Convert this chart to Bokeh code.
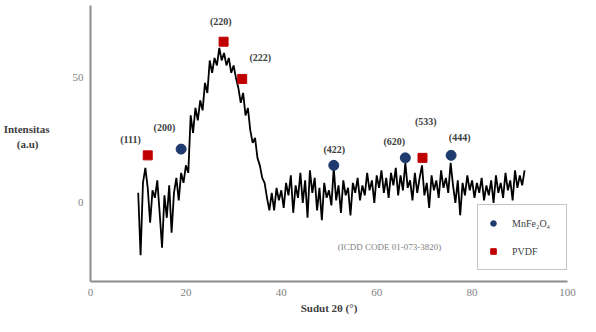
from bokeh.plotting import figure
from bokeh.models import Label, Legend, LegendItem, FixedTicker, Range1d
from bokeh.embed import file_html
from bokeh.resources import INLINE

two_theta = [10.0 + 0.5 * i for i in range(163)]
intensity = [
    4, -21, 8, 14, 6, -8, 5, 2, 9, -4, -18, 3, -6, 7, -12, 4, 10, 1, 12, 8,
    15, 12, 35, 28, 38, 33, 41, 37, 48, 44, 57, 52, 58, 55, 62, 57, 60, 55, 58, 52,
    55, 50, 46, 40, 44, 35, 38, 29, 24, 26, 18, 15, 10, 8, 2, -3, 4, -3, 6, 1,
    5, -2, 8, 3, 11, -4, 7, 2, 12, 0, 9, -6, 13, 4, 10, -3, 6, -7, 8, 2,
    5, -1, 14, 1, 7, -4, 9, 3, 6, -5, 8, 4, 10, 1, 7, 3, 12, 5, 9, 0,
    11, 6, 13, 4, 10, 2, 12, 7, 14, 3, 11, 5, 16, 6, 9, 1, 12, 4, 10, 15,
    3, 8, -2, 11, 5, 9, 2, 13, 6, 10, 4, 16, 7, 0, 9, -5, 8, 3, 11, 5,
    9, 2, 8, 4, 10, 1, 7, 3, 9, 0, 11, 4, 8, 2, 12, 5, 9, 1, 13, 6,
    11, 7, 13,
]
two_theta = two_theta[:len(intensity)]

mnfe_x = [19.0, 51.0, 66.0, 75.6]
mnfe_y = [21.5, 15.0, 18.0, 19.0]
pvdf_x = [12.0, 27.9, 31.8, 69.6]
pvdf_y = [19.0, 64.5, 49.6, 18.0]

peak_labels = ["(111)", "(200)", "(220)", "(222)", "(422)", "(620)", "(533)", "(444)"]
peak_label_x = [8.4, 15.5, 27.3, 35.6, 51.1, 63.7, 70.3, 77.4]
peak_label_y = [25.4, 30.0, 72.7, 58.0, 21.5, 24.6, 32.7, 26.2]

x_ticks = [0, 20, 40, 60, 80, 100]
y_ticks = [0, 50]

SERIF = "Liberation Serif"
GREY = "#8c8c8c"
NBSP = "\u00a0"

p = figure(width=580, height=316, output_backend="svg", toolbar_location=None,
           x_range=Range1d(0, 100), y_range=Range1d(-31.5, 79),
           min_border_left=20, min_border_right=13, min_border_top=5, min_border_bottom=0)
p.outline_line_color = None
p.xgrid.grid_line_color = None
p.ygrid.grid_line_color = None

for ax in (p.xaxis[0], p.yaxis[0]):
    ax.axis_line_color = GREY
    ax.axis_line_width = 2
    ax.major_tick_line_color = None
    ax.minor_tick_line_color = None
    ax.major_label_text_color = "#7f7f7f"
    ax.major_label_text_font = SERIF
    ax.major_label_text_font_size = "11px"
    ax.major_label_standoff = 1

p.xaxis.ticker = FixedTicker(ticks=x_ticks)
p.yaxis.ticker = FixedTicker(ticks=y_ticks)
p.xaxis.axis_label = "Sudut 2θ (°)"
p.xaxis.axis_label_text_font = SERIF
p.xaxis.axis_label_text_font_style = "bold"
p.xaxis.axis_label_text_font_size = "11px"
p.xaxis.axis_label_text_color = "#404040"
p.xaxis.axis_label_standoff = 3

p.yaxis.axis_label = "Intensitas\n(a.u)" + NBSP * 4 + "\n" + NBSP
p.yaxis.axis_label_orientation = "horizontal"
p.yaxis.axis_label_text_font = SERIF
p.yaxis.axis_label_text_font_style = "bold"
p.yaxis.axis_label_text_font_size = "11px"
p.yaxis.axis_label_text_color = "#404040"
p.yaxis.axis_label_standoff = 20

p.line(two_theta, intensity, line_color="black", line_width=1.8)

r_mn = p.scatter(mnfe_x, mnfe_y, marker="circle", size=10, fill_color="#1f3a6e",
                 line_color="#1f3a6e")
r_pv = p.scatter(pvdf_x, pvdf_y, marker="square", size=9, fill_color="#c00000",
                 line_color="#c00000")

for t, x, y in zip(peak_labels, peak_label_x, peak_label_y):
    p.add_layout(Label(x=x, y=y, text=t, text_align="center", text_baseline="middle",
                       text_font=SERIF, text_font_size="10px", text_font_style="bold",
                       text_color="#404040"))

p.add_layout(Label(x=62.7, y=-17.7, text="(ICDD CODE 01-073-3820)", text_align="center",
                   text_baseline="middle", text_font=SERIF, text_font_size="9px",
                   text_color="#7f7f7f"))

legend = Legend(items=[LegendItem(label="MnFe₂O₄", renderers=[r_mn]),
                       LegendItem(label="PVDF", renderers=[r_pv])],
                location=(387, 11))
legend.label_text_font = SERIF
legend.label_text_font_size = "10px"
legend.label_text_color = "#404040"
legend.border_line_color = GREY
legend.border_line_width = 1
legend.padding = 8
legend.spacing = 8
legend.glyph_height = 20
legend.glyph_width = 14
legend.label_height = 20
legend.label_width = 46
legend.label_standoff = 12
legend.background_fill_alpha = 1
p.add_layout(legend)

open("out.html", "w").write(file_html(p, INLINE))
